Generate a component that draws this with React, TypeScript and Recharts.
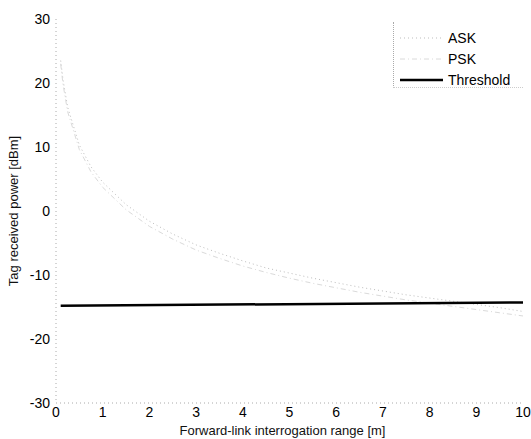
import { LineChart, Line, XAxis, YAxis, Legend } from 'recharts';

const distance = [0.1, 0.15, 0.25, 0.5, 0.75, 1, 1.5, 2, 2.5, 3, 3.5, 4, 4.5, 5, 5.5, 6, 6.5, 7, 7.5, 8, 8.5, 9, 9.5, 10];
const askPower = [23.5, 20.5, 16.2, 10.3, 6.9, 4.5, 1.0, -1.6, -3.6, -5.3, -6.6, -7.8, -8.9, -9.7, -10.5, -11.2, -11.9, -12.5, -13.1, -13.6, -14.1, -14.6, -15.1, -15.7];
const pskPower = [23.0, 19.8, 15.5, 9.6, 6.1, 3.7, 0.2, -2.4, -4.4, -6.1, -7.4, -8.6, -9.6, -10.5, -11.3, -12.0, -12.7, -13.3, -13.9, -14.4, -14.9, -15.4, -15.9, -16.4];
const thresholdRange = [0.1, 10];
const thresholdPower = [-14.8, -14.3];

const xTicks = [0, 1, 2, 3, 4, 5, 6, 7, 8, 9, 10];
const yTicks = [-30, -20, -10, 0, 10, 20, 30];

const curveData = distance.map((d, i) => ({ d, ask: askPower[i], psk: pskPower[i] }));
const thresholdData = thresholdRange.map((d, i) => ({ d, threshold: thresholdPower[i] }));

const FONT = '"Liberation Sans", Arial, sans-serif';
const tickStyle = { fill: '#000', fontSize: 14, fontFamily: FONT };

const LegendBox = ({ payload }: any) => (
  <div
    style={{
      width: 130,
      height: 66,
      boxSizing: 'border-box',
      borderLeft: '1px dotted #aaa',
      borderBottom: '1px dotted #ccc',
      paddingTop: 5,
      fontFamily: FONT,
      fontSize: 14,
      color: '#000',
    }}
  >
    {(payload || []).map((entry: any) => (
      <div key={entry.value} style={{ display: 'flex', alignItems: 'center', height: 21 }}>
        <svg width={48} height={10} style={{ marginLeft: 6, marginRight: 0 }}>
          <line
            x1={0}
            y1={5}
            x2={43}
            y2={5}
            stroke={entry.color}
            strokeWidth={entry.payload?.strokeWidth ?? 1}
            strokeDasharray={entry.payload?.strokeDasharray}
          />
        </svg>
        <span>{entry.value}</span>
      </div>
    ))}
  </div>
);

export default function App() {
  return (
    <div style={{ position: 'absolute', left: 0, top: 0, width: 531, height: 439, background: '#fff', fontFamily: FONT }}>
      <LineChart width={531} height={439} margin={{ top: 19, right: 8, left: 0, bottom: 0 }}>
        <XAxis
          dataKey="d"
          type="number"
          domain={[0, 10]}
          ticks={xTicks}
          height={36}
          tickLine={false}
          tickSize={3}
          tickMargin={1}
          tick={tickStyle}
          axisLine={{ stroke: '#aaa', strokeDasharray: '1 3' }}
          allowDuplicatedCategory={false}
          label={{ value: 'Forward-link interrogation range [m]', position: 'insideBottom', offset: 4, dx: -7, style: { fontSize: 13, fill: '#111', fontFamily: FONT } }}
        />
        <XAxis
          xAxisId="top"
          orientation="top"
          type="number"
          domain={[0, 10]}
          height={0}
          tick={false}
          tickLine={false}
          axisLine={{ stroke: '#aaa', strokeDasharray: '1 3' }}
        />
        <YAxis
          type="number"
          domain={[-30, 30]}
          ticks={yTicks}
          width={56}
          tickLine={false}
          tickSize={4}
          tickMargin={2}
          tick={tickStyle}
          axisLine={{ stroke: '#aaa', strokeDasharray: '1 3' }}
          label={{ value: 'Tag received power [dBm]', angle: -90, position: 'insideLeft', offset: 13, style: { textAnchor: 'middle', fontSize: 13, fill: '#111', fontFamily: FONT } }}
        />
        <YAxis
          yAxisId="right"
          orientation="right"
          type="number"
          domain={[-30, 30]}
          width={0}
          tick={false}
          tickLine={false}
          axisLine={{ stroke: '#666', strokeDasharray: '3 2' }}
        />
        <Legend
          layout="vertical"
          align="center"
          verticalAlign="middle"
          wrapperStyle={{ left: 393, top: 22, width: 130 }}
          content={<LegendBox />}
        />
        <Line
          data={curveData}
          dataKey="ask"
          name="ASK"
          type="linear"
          stroke="#bdbdbd"
          strokeWidth={1}
          strokeDasharray="1 3"
          dot={false}
          isAnimationActive={false}
        />
        <Line
          data={curveData}
          dataKey="psk"
          name="PSK"
          type="linear"
          stroke="#dadada"
          strokeWidth={1}
          strokeDasharray="5 3 1 3"
          dot={false}
          isAnimationActive={false}
        />
        <Line
          data={thresholdData}
          dataKey="threshold"
          name="Threshold"
          type="linear"
          stroke="#000"
          strokeWidth={2.5}
          dot={false}
          isAnimationActive={false}
        />
      </LineChart>
    </div>
  );
}
